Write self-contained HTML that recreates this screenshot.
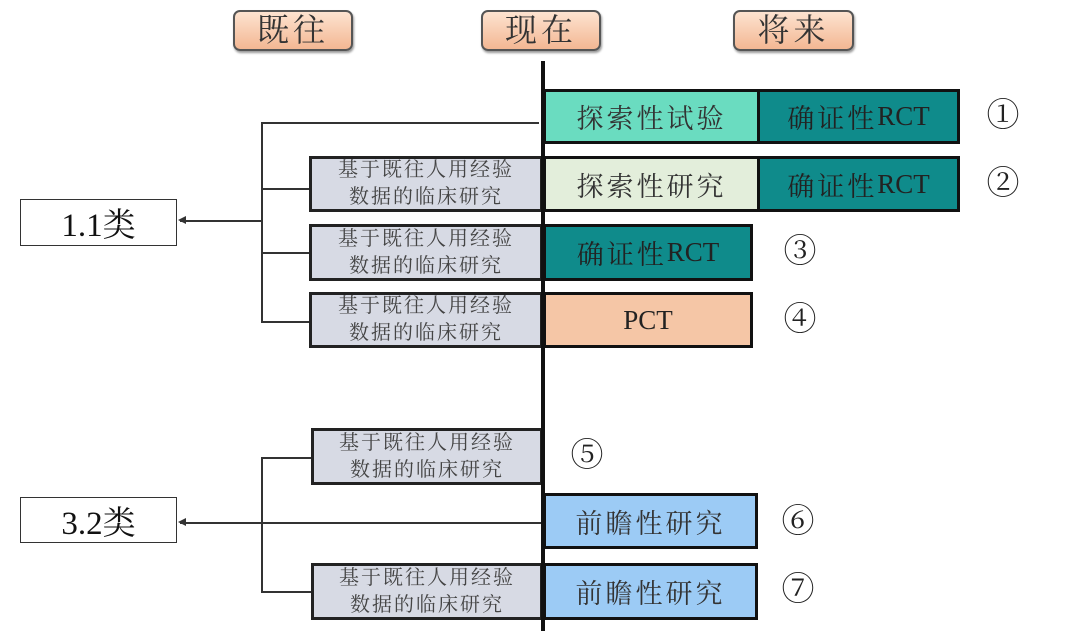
<!DOCTYPE html>
<html><head><meta charset="utf-8"><style>
body{margin:0;width:1080px;height:637px;background:#fff;position:relative;overflow:hidden;font-family:"Liberation Serif","Noto Serif CJK SC",serif;color:#333}
.a{position:absolute;box-sizing:border-box}
.hd{border:2px solid #555;border-radius:7px;background:linear-gradient(#fde3d0,#f3b793);font-size:32px;text-align:center;line-height:36px;box-shadow:1px 2px 2px #999;letter-spacing:4px}
.b{border:3px solid #111;display:flex;align-items:center;justify-content:center;font-size:27px;letter-spacing:3px}
.b i{font-style:normal;letter-spacing:0}
.g{border:3px solid #222;background:#d7dae4;font-size:20px;line-height:27px;text-align:center;letter-spacing:2px;color:#444;display:flex;align-items:center;justify-content:center}
.n{font-size:33px;line-height:36px;text-align:center;width:40px;color:#222}
.ln{background:#333}
.cls{border:1.5px solid #333;font-size:33px;display:flex;align-items:center;justify-content:center;color:#111}
</style></head><body>
<div class="a hd" style="left:233px;top:10px;width:120px;height:41px">既往</div>
<div class="a hd" style="left:481px;top:10px;width:120px;height:41px">现在</div>
<div class="a hd" style="left:733px;top:10px;width:121px;height:41px">将来</div>

<div class="a ln" style="left:261px;top:122px;width:2px;height:200px"></div>
<div class="a ln" style="left:261px;top:122px;width:278px;height:1.5px"></div>
<div class="a ln" style="left:261px;top:188px;width:48px;height:1.5px"></div>
<div class="a ln" style="left:261px;top:252px;width:48px;height:1.5px"></div>
<div class="a ln" style="left:261px;top:321px;width:48px;height:1.5px"></div>
<div class="a ln" style="left:180px;top:220px;width:82px;height:1.5px"></div>
<div class="a" style="left:178px;top:216px;width:0;height:0;border-top:4px solid transparent;border-bottom:4px solid transparent;border-right:8px solid #333"></div>
<div class="a cls" style="left:20px;top:199px;width:157px;height:47px">1.1类</div>

<div class="a ln" style="left:261px;top:457px;width:2px;height:135px"></div>
<div class="a ln" style="left:261px;top:457px;width:50px;height:1.5px"></div>
<div class="a ln" style="left:261px;top:591px;width:50px;height:1.5px"></div>
<div class="a ln" style="left:180px;top:522px;width:363px;height:1.5px"></div>
<div class="a" style="left:178px;top:518px;width:0;height:0;border-top:4px solid transparent;border-bottom:4px solid transparent;border-right:8px solid #333"></div>
<div class="a cls" style="left:20px;top:497px;width:157px;height:46px">3.2类</div>

<div class="a g" style="left:309px;top:156px;width:234px;height:56px">基于既往人用经验<br>数据的临床研究</div>
<div class="a g" style="left:309px;top:224px;width:234px;height:57px">基于既往人用经验<br>数据的临床研究</div>
<div class="a g" style="left:309px;top:292px;width:234px;height:56px">基于既往人用经验<br>数据的临床研究</div>
<div class="a g" style="left:311px;top:428px;width:232px;height:57px">基于既往人用经验<br>数据的临床研究</div>
<div class="a g" style="left:311px;top:563px;width:232px;height:57px">基于既往人用经验<br>数据的临床研究</div>

<div class="a b" style="left:543px;top:89px;width:217px;height:55px;background:#6adcc0">探索性试验</div>
<div class="a b" style="left:757px;top:89px;width:203px;height:55px;background:#0f8b8b;color:#222">确证性<i>RCT</i></div>
<div class="a b" style="left:543px;top:156px;width:217px;height:56px;background:#e3eedb">探索性研究</div>
<div class="a b" style="left:757px;top:156px;width:203px;height:56px;background:#0f8b8b;color:#222">确证性<i>RCT</i></div>
<div class="a b" style="left:543px;top:224px;width:210px;height:57px;background:#0f8b8b;color:#222">确证性<i>RCT</i></div>
<div class="a b" style="left:543px;top:292px;width:210px;height:56px;background:#f5c6a6;color:#222"><i>PCT</i></div>
<div class="a b" style="left:543px;top:493px;width:215px;height:56px;background:#9ccbf5">前瞻性研究</div>
<div class="a b" style="left:543px;top:563px;width:215px;height:57px;background:#9ccbf5">前瞻性研究</div>

<div class="a" style="left:541px;top:61px;width:4px;height:570px;background:#111"></div>

<div class="a n" style="left:983px;top:98px">①</div>
<div class="a n" style="left:983px;top:166px">②</div>
<div class="a n" style="left:780px;top:234px">③</div>
<div class="a n" style="left:780px;top:302px">④</div>
<div class="a n" style="left:567px;top:438px">⑤</div>
<div class="a n" style="left:778px;top:504px">⑥</div>
<div class="a n" style="left:778px;top:572px">⑦</div>
</body></html>
